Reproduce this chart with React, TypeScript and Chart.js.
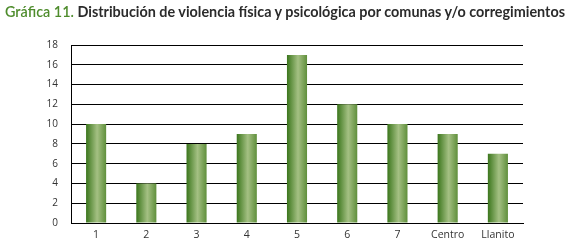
import React, { useEffect, useRef } from "react";
import { Chart, registerables } from "chart.js";

Chart.register(...registerables);

const categories = ["1", "2", "3", "4", "5", "6", "7", "Centro", "Llanito"];
const values = [10, 4, 8, 9, 17, 12, 10, 9, 7];
const yTicks = [0, 2, 4, 6, 8, 10, 12, 14, 16, 18];
const titleLead = "Gráfica 11.";
const titleRest = " Distribución de violencia física y psicológica por comunas y/o corregimientos";

const BAR_PCT = 0.4;
const TITLE_WIDTH = 560;

export default function App() {
  const ref = useRef<HTMLCanvasElement | null>(null);
  const titleRef = useRef<HTMLDivElement | null>(null);

  useEffect(() => {
    document.body.style.margin = "0";
    const t = titleRef.current;
    if (t) {
      t.style.transform = "none";
      const w = t.getBoundingClientRect().width;
      if (w > 0) t.style.transform = `scaleX(${TITLE_WIDTH / w})`;
    }
    const canvas = ref.current;
    if (!canvas) return;
    const chart = new Chart(canvas, {
      type: "bar",
      data: {
        labels: categories,
        datasets: [
          {
            data: values,
            borderWidth: 0,
            backgroundColor: (ctx: any) => {
              const c = ctx.chart;
              const xs = c.scales?.x;
              if (!xs || ctx.dataIndex === undefined) return "#6f9f4a";
              const cx = xs.getPixelForValue(ctx.dataIndex);
              const w = (xs.width / categories.length) * BAR_PCT;
              if (!isFinite(cx) || !isFinite(w) || w <= 0) return "#6f9f4a";
              const g = c.ctx.createLinearGradient(cx - w / 2, 0, cx + w / 2, 0);
              g.addColorStop(0, "#3b761c");
              g.addColorStop(0.55, "#a4c083");
              g.addColorStop(1, "#5f8f3b");
              return g;
            },
          },
        ],
      },
      options: {
        animation: false,
        responsive: false,
        maintainAspectRatio: false,
        layout: { padding: { top: 45, right: 46, left: 0, bottom: 0 } },
        plugins: { legend: { display: false }, title: { display: false }, tooltip: { enabled: false } },
        datasets: { bar: { barPercentage: BAR_PCT, categoryPercentage: 1 } },
        scales: {
          x: {
            grid: { display: false, drawTicks: false },
            border: { display: true, color: "#000", width: 1 },
            ticks: { color: "#333", font: { family: "Open Sans", size: 10.5 }, padding: 6 },
            afterFit: (s: any) => {
              s.height = 19;
            },
          },
          y: {
            min: 0,
            max: 18,
            grid: { color: "#000", lineWidth: 1, drawTicks: false },
            border: { display: true, color: "#000", width: 1 },
            afterBuildTicks: (s: any) => {
              s.ticks = yTicks.map((v) => ({ value: v }));
            },
            ticks: { color: "#333", font: { family: "Open Sans", size: 10 }, padding: 13 },
            afterFit: (s: any) => {
              s.width = 71;
            },
          },
        },
      },
    });
    return () => chart.destroy();
  }, []);

  return (
    <div style={{ position: "relative", width: 569, height: 242, background: "#fff" }}>
      <div
        ref={titleRef}
        style={{
          position: "absolute",
          left: 5,
          top: 2,
          whiteSpace: "nowrap",
          fontFamily: "Lato",
          fontWeight: 700,
          fontSize: 15,
          color: "#2b2b2b",
          transformOrigin: "0 0",
        }}
      >
        <span style={{ color: "#4e8c2c", fontWeight: 600 }}>{titleLead}</span>
        {titleRest}
      </div>
      <canvas ref={ref} width={569} height={242} style={{ display: "block", width: 569, height: 242 }} />
    </div>
  );
}
